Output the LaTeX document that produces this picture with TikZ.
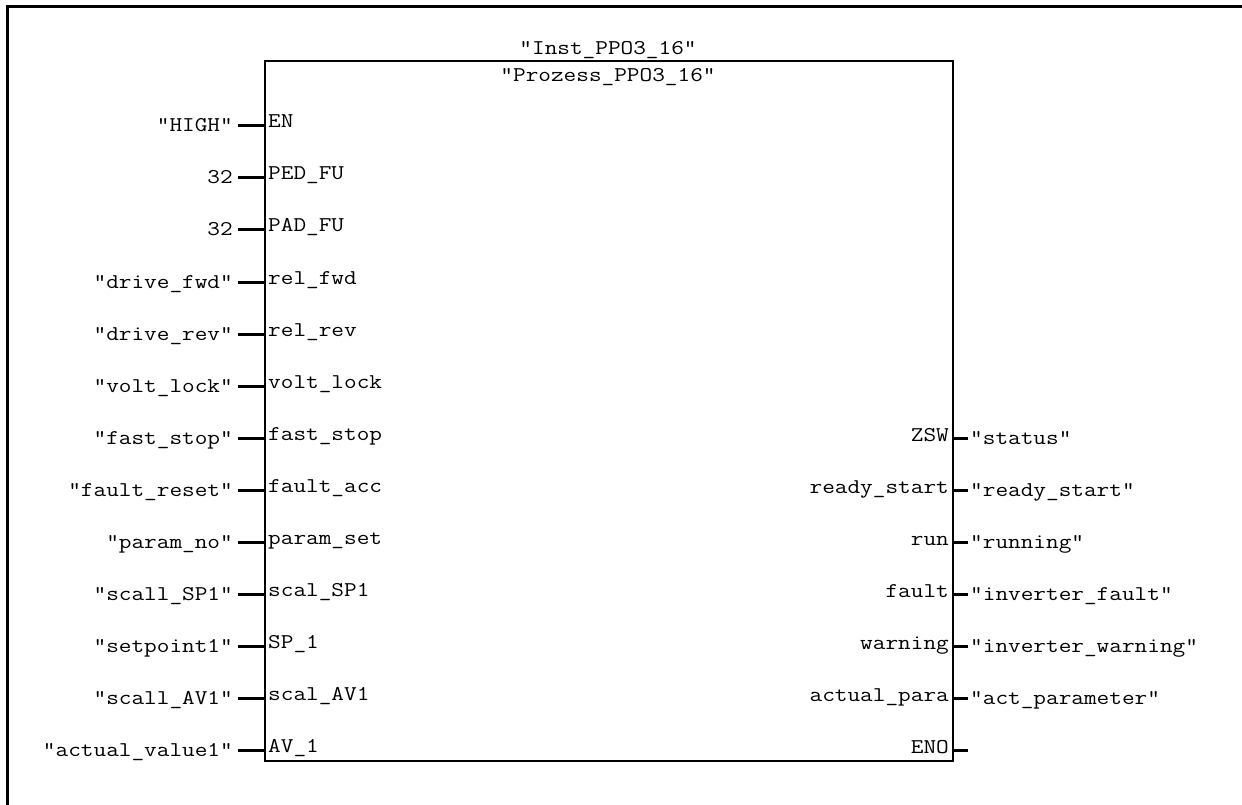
\documentclass[tikz,border=0pt]{standalone}
\usepackage{fontspec}
\newfontfamily\plcfont{Latin Modern Mono}[FakeStretch=1.17]
\begin{document}
\begin{tikzpicture}[x=1pt,y=-1pt,
    every node/.style={font=\plcfont\fontsize{21}{24}\selectfont, inner sep=0pt},
    fbbox/.style={draw, line width=1.6pt, minimum width=688pt, minimum height=700pt, anchor=north west},
    stub/.style={line width=3pt}]
  \useasboundingbox (0,0) rectangle (1242,805);
  % frame
  \draw[line width=3pt] (7,805) -- (7,7) -- (1242,7);
  % block
  \node[fbbox] (fb) at (264,60) {};
  \node[anchor=base] (inst) at (608,55) {"Inst\_PPO3\_16"};
  \node[anchor=base] (fbname) at (608,82) {"Prozess\_PPO3\_16"};
  % inputs
  \foreach \i/\pin/\val in {0/EN/"HIGH", 1/PED\_FU/32, 2/PAD\_FU/32,
      3/rel\_fwd/"drive\_fwd", 4/rel\_rev/"drive\_rev", 5/volt\_lock/"volt\_lock",
      6/fast\_stop/"fast\_stop", 7/fault\_acc/"fault\_reset", 8/param\_set/"param\_no",
      9/scal\_SP1/"scall\_SP1", 10/SP\_1/"setpoint1", 11/scal\_AV1/"scall\_AV1",
      12/AV\_1/"actual\_value1"} {
    \coordinate (in\i) at (264,126+52*\i);
    \node[anchor=base west] (pin\i) at (268,128+52*\i) {\pin};
    \node[anchor=base east] (val\i) at (233,132+52*\i) {\val};
    \draw[stub, shorten <=5pt] (val\i.east |- in\i) -- (in\i);
  }
  % outputs
  \foreach \i/\pin/\val in {6/ZSW/"status", 7/ready\_start/"ready\_start",
      8/run/"running", 9/fault/"inverter\_fault", 10/warning/"inverter\_warning",
      11/actual\_para/"act\_parameter"} {
    \coordinate (out\i) at (952,126+52*\i);
    \node[anchor=base east] (opin\i) at (949,129+52*\i) {\pin};
    \node[anchor=base west] (oval\i) at (970,132+52*\i) {\val};
    \draw[stub, shorten >=2pt] (out\i) -- (oval\i.west |- out\i);
  }
  \coordinate (out12) at (952,750);
  \coordinate (enoend) at (968,750);
  \node[anchor=base east] (opin12) at (949,753) {ENO};
  \draw[stub] (out12) -- (enoend);
\end{tikzpicture}
\end{document}
